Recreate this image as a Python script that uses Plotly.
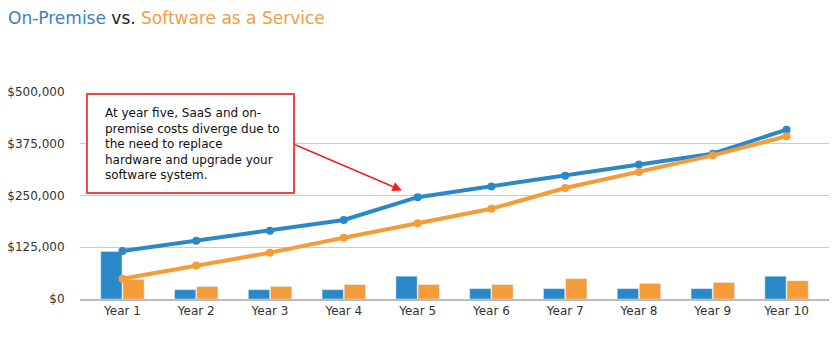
import plotly.graph_objects as go

years = ["Year 1", "Year 2", "Year 3", "Year 4", "Year 5",
         "Year 6", "Year 7", "Year 8", "Year 9", "Year 10"]

# yearly cost per model (bars)
onprem_yearly = [115000, 22500, 22500, 22500, 55000, 25000, 25000, 25000, 25000, 55000]
saas_yearly = [47000, 30000, 30000, 35000, 35000, 35000, 49000, 37500, 40000, 44000]

# running total cost per model (lines)
onprem_total = [116000, 141000, 165000, 191000, 246000, 272000, 298000, 325000, 351000, 409000]
saas_total = [49000, 81000, 112000, 148000, 183000, 218000, 268000, 307000, 347000, 393000]

y_ticks = [0, 125000, 250000, 375000, 500000]
y_tick_text = ["$0", "$125,000", "$250,000", "$375,000", "$500,000"]

BLUE = "#2a88c8"
ORANGE = "#f59b38"
FONT = "DejaVu Sans"

fig = go.Figure()
fig.add_trace(go.Bar(x=years, y=onprem_yearly, marker_color=BLUE, name="On-Premise"))
fig.add_trace(go.Bar(x=years, y=saas_yearly, marker_color=ORANGE, name="SaaS"))
fig.add_trace(go.Scatter(x=years, y=onprem_total, mode="lines+markers",
                         line=dict(color=BLUE, width=4), marker=dict(size=8, color=BLUE)))
fig.add_trace(go.Scatter(x=years, y=saas_total, mode="lines+markers",
                         line=dict(color=ORANGE, width=4), marker=dict(size=8, color=ORANGE)))

fig.update_layout(
    width=835, height=347,
    margin=dict(l=80, r=6, t=92, b=48),
    paper_bgcolor="white", plot_bgcolor="white",
    showlegend=False,
    barmode="group", bargap=0.4, bargroupgap=0.04,
    font=dict(family=FONT, size=12, color="#333"),
)
fig.update_xaxes(showgrid=False, showline=True, linecolor="#bbbbbb", linewidth=2,
                 ticks="", tickfont=dict(size=12, color="#333"))
fig.update_yaxes(range=[0, 500000], tickvals=y_ticks, ticktext=y_tick_text,
                 showgrid=True, gridcolor="#cccccc", gridwidth=1, zeroline=False,
                 ticks="outside", ticklen=12, tickcolor="white",
                 tickfont=dict(size=12, color="#333"))

# chart title with two-colour wording
fig.add_annotation(
    xref="paper", yref="paper", x=-0.099, y=1.357, xanchor="left", yanchor="middle",
    showarrow=False, align="left",
    text=("<span style='color:#3d7fc6'>On-Premise</span> "
          "<span style='color:#222'>vs.</span> "
          "<span style='color:#f59c45'>Software as a Service</span>"),
    font=dict(family=FONT, size=17),
)

# callout frame
fig.add_shape(type="rect", xref="paper", yref="paper",
              x0=0.0093, x1=0.2857, y0=0.512, y1=0.990,
              line=dict(color="#f04545", width=2), fillcolor="white", layer="above")

# callout text
fig.add_annotation(
    xref="paper", yref="paper", x=0.0307, y=0.751, xanchor="left", yanchor="middle",
    showarrow=False, align="left",
    text=("At year five, SaaS and on-<br>premise costs diverge due to<br>"
          "the need to replace<br>hardware and upgrade your<br>software system."),
    font=dict(family=FONT, size=12, color="#111"),
)

# arrow pointing at year five on the on-premise line
fig.add_annotation(
    x="Year 5", y=onprem_total[4], xref="x", yref="y", text="",
    showarrow=True, arrowhead=2, arrowsize=1.2, arrowwidth=1.6, arrowcolor="#ee2222",
    ax=-124, ay=-53, standoff=17,
)

fig.write_html("out.html")
